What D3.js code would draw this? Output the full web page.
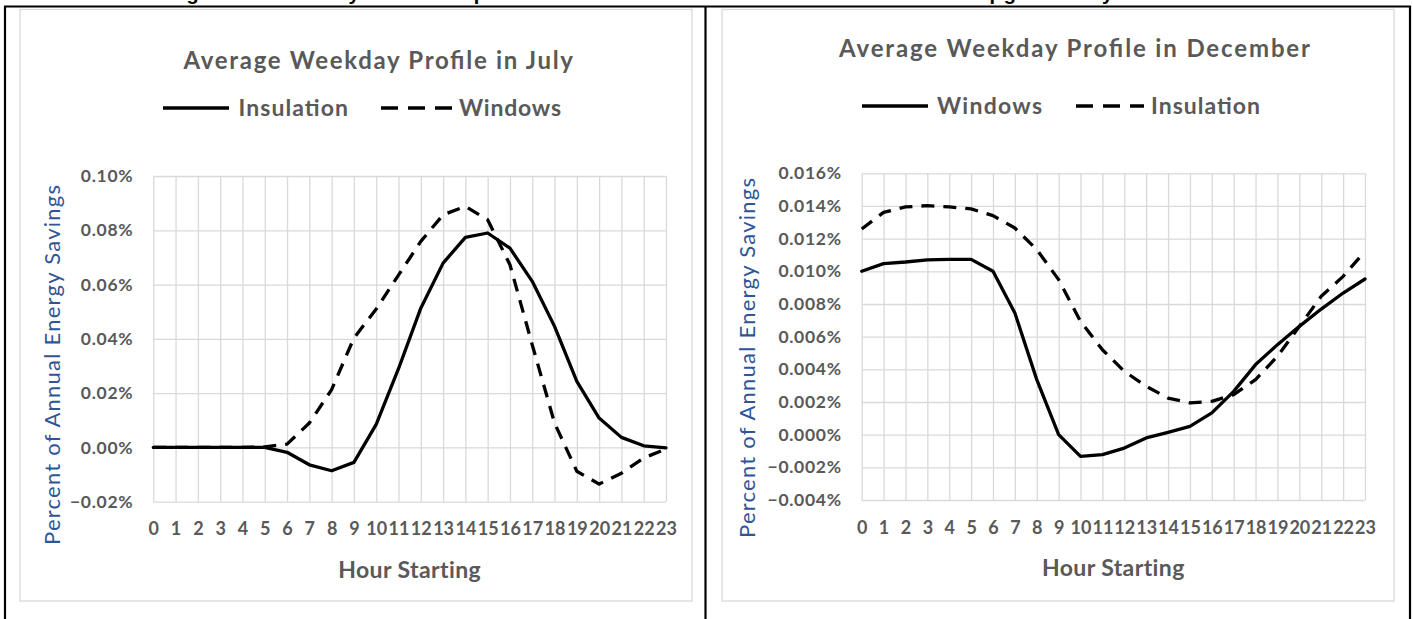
<!DOCTYPE html>
<html>
<head>
<meta charset="utf-8">
<script src="https://cdn.jsdelivr.net/npm/d3@7"></script>
<style>
  html, body { margin: 0; padding: 0; background: #ffffff; }
  svg { display: block; }
</style>
</head>
<body>
<script>
// Hour-of-day categories shared by both profiles
const hourLabels = ["0","1","2","3","4","5","6","7","8","9","10","11",
                    "12","13","14","15","16","17","18","19","20","21","22","23"];

// July: percent of annual energy savings per hour
const julyInsulation = [0, 0, 0, 0, 0, 0, -0.0018, -0.0064, -0.0086, -0.0055, 0.0085, 0.0290,
                        0.0513, 0.0679, 0.0774, 0.0790, 0.0734, 0.0612, 0.0446, 0.0243, 0.0108, 0.0037, 0.0006, -0.0002];
const julyWindows    = [0, 0, 0, 0, 0, 0.0002, 0.0012, 0.0090, 0.0213, 0.0403, 0.0510, 0.0635,
                        0.0759, 0.0857, 0.0888, 0.0839, 0.0673, 0.0378, 0.0090, -0.0088, -0.0135, -0.0095, -0.0039, -0.0006];
const julyTicks = [-0.02, 0, 0.02, 0.04, 0.06, 0.08, 0.10];

// December: percent of annual energy savings per hour
const decWindows    = [0.01000, 0.01047, 0.01057, 0.01070, 0.01073, 0.01073, 0.01000, 0.00745, 0.00337, 0.00000, -0.00133, -0.00122,
                       -0.00082, -0.00020, 0.00014, 0.00051, 0.00133, 0.00265, 0.00429, 0.00551, 0.00663, 0.00769, 0.00867, 0.00953];
const decInsulation = [0.01259, 0.01361, 0.01394, 0.01402, 0.01394, 0.01382, 0.01341, 0.01265, 0.01133, 0.00949, 0.00694, 0.00520,
                       0.00388, 0.00296, 0.00224, 0.00194, 0.00204, 0.00245, 0.00337, 0.00480, 0.00663, 0.00847, 0.00969, 0.01122];
const decTicks = [-0.004, -0.002, 0, 0.002, 0.004, 0.006, 0.008, 0.010, 0.012, 0.014, 0.016];

const W = 1413, H = 619;
const GRID = "#d9d9d9", TEXT = "#595959", AXIS_TITLE = "#2f5597";
const FONT = "Lato, 'Open Sans', sans-serif";

const svg = d3.select("body").append("svg")
  .attr("width", W).attr("height", H)
  .attr("viewBox", `0 0 ${W} ${H}`);

svg.append("rect").attr("width", W).attr("height", H).attr("fill", "#fff");

// Document caption above the figure table (runs off the top of the page)
svg.append("text")
  .attr("x", 165).attr("y", -0.5)
  .attr("textLength", 1025).attr("lengthAdjust", "spacing")
  .attr("font-family", "'Liberation Sans', Arial, sans-serif")
  .attr("font-weight", "bold").attr("font-size", 20).attr("fill", "#000")
  .text("Figure 10: Hourly Load Shapes for Residential Windows and Insulation Upgrades by Month");

// Table borders
const border = svg.append("g").attr("stroke", "#000").attr("stroke-width", 2.2).attr("fill", "none");
border.append("line").attr("x1", 4).attr("x2", 1411).attr("y1", 6.5).attr("y2", 6.5);
border.append("line").attr("x1", 5).attr("x2", 5).attr("y1", 6).attr("y2", H);
border.append("line").attr("x1", 705.5).attr("x2", 705.5).attr("y1", 6).attr("y2", H);
border.append("line").attr("x1", 1410).attr("x2", 1410).attr("y1", 6).attr("y2", H);

function drawPanel(cfg) {
  const g = svg.append("g");

  // chart-area frame
  g.append("rect")
    .attr("x", cfg.frame[0]).attr("y", cfg.frame[1])
    .attr("width", cfg.frame[2] - cfg.frame[0]).attr("height", cfg.frame[3] - cfg.frame[1])
    .attr("fill", "#fff").attr("stroke", GRID).attr("stroke-width", 1.3);

  const x = d3.scalePoint().domain(hourLabels).range([cfg.plot.x0, cfg.plot.x1]);
  const y = d3.scaleLinear().domain(d3.extent(cfg.ticks)).range([cfg.plot.y1, cfg.plot.y0]);
  const ph = cfg.plot.y1 - cfg.plot.y0, pw = cfg.plot.x1 - cfg.plot.x0;

  // vertical gridlines
  g.append("g").attr("transform", `translate(0,${cfg.plot.y1})`)
    .call(d3.axisBottom(x).tickSize(-ph).tickFormat(""))
    .call(s => s.select(".domain").remove())
    .call(s => s.selectAll("line").attr("stroke", GRID).attr("stroke-width", 1.3));

  // horizontal gridlines
  g.append("g").attr("transform", `translate(${cfg.plot.x0},0)`)
    .call(d3.axisLeft(y).tickValues(cfg.ticks).tickSize(-pw).tickFormat(""))
    .call(s => s.select(".domain").remove())
    .call(s => s.selectAll("line").attr("stroke", GRID).attr("stroke-width", 1.3));

  // y tick labels
  g.append("g").attr("transform", `translate(${cfg.plot.x0},0)`)
    .call(d3.axisLeft(y).tickValues(cfg.ticks).tickSize(0).tickPadding(20)
      .tickFormat(d => d3.format(cfg.fmt)(d) + "%"))
    .call(s => s.select(".domain").remove())
    .call(s => s.selectAll("text")
      .attr("font-family", FONT).attr("font-weight", "bold").attr("font-size", 17.5)
      .attr("letter-spacing", 0.7).attr("fill", TEXT));

  // x tick labels
  g.append("g").attr("transform", `translate(0,${cfg.plot.y1})`)
    .call(d3.axisBottom(x).tickSize(0).tickPadding(cfg.xPad))
    .call(s => s.select(".domain").remove())
    .call(s => s.selectAll("text")
      .attr("font-family", FONT).attr("font-weight", "bold").attr("font-size", 18)
      .attr("fill", TEXT));

  // series lines
  const line = d3.line().x((d, i) => x(hourLabels[i])).y(d => y(d));
  cfg.series.forEach(sr => {
    g.append("path").datum(sr.values)
      .attr("d", line)
      .attr("fill", "none").attr("stroke", "#000").attr("stroke-width", 3.3)
      .attr("stroke-linejoin", "round")
      .attr("stroke-linecap", sr.dashed ? "butt" : "round")
      .attr("stroke-dasharray", sr.dashed ? "13,9" : null);
  });

  // chart title
  g.append("text")
    .attr("x", cfg.title.x0).attr("y", cfg.title.y)
    .attr("textLength", cfg.title.x1 - cfg.title.x0).attr("lengthAdjust", "spacing")
    .attr("font-family", FONT).attr("font-weight", "bold").attr("font-size", 24)
    .attr("fill", TEXT).text(cfg.title.text);

  // legend
  cfg.series.forEach(sr => {
    const L = sr.legend;
    g.append("line")
      .attr("x1", L.line[0]).attr("x2", L.line[1]).attr("y1", cfg.legendY).attr("y2", cfg.legendY)
      .attr("stroke", "#000").attr("stroke-width", 3.3)
      .attr("stroke-dasharray", sr.dashed ? "17,10" : null);
    g.append("text")
      .attr("x", L.text[0]).attr("y", cfg.legendY).attr("dy", "0.36em")
      .attr("textLength", L.text[1] - L.text[0]).attr("lengthAdjust", "spacing")
      .attr("font-family", FONT).attr("font-weight", "bold").attr("font-size", 23)
      .attr("fill", TEXT).text(sr.name);
  });

  // axis titles
  g.append("text")
    .attr("x", (cfg.plot.x0 + cfg.plot.x1) / 2).attr("y", cfg.xTitleY).attr("dy", "0.36em")
    .attr("text-anchor", "middle")
    .attr("font-family", FONT).attr("font-weight", "bold").attr("font-size", 23)
    .attr("letter-spacing", 0.4).attr("fill", TEXT).text("Hour Starting");

  g.append("text")
    .attr("transform", `translate(${cfg.yTitle.x},${cfg.yTitle.y}) rotate(-90)`)
    .attr("text-anchor", "middle").attr("dy", "0.36em")
    .attr("font-family", FONT).attr("font-size", 22)
    .attr("textLength", 360).attr("lengthAdjust", "spacing")
    .attr("fill", AXIS_TITLE).text("Percent of Annual Energy Savings");
}

drawPanel({
  frame: [20, 9.5, 692, 601],
  plot: { x0: 153.3, x1: 666, y0: 176, y1: 501.7 },
  ticks: julyTicks, fmt: ".2f", xPad: 21,
  title: { text: "Average Weekday Profile in July", x0: 183.5, x1: 573, y: 69 },
  legendY: 108,
  xTitleY: 570,
  yTitle: { x: 52, y: 365 },
  series: [
    { name: "Insulation", values: julyInsulation, dashed: false, legend: { line: [163, 229], text: [238.5, 348] } },
    { name: "Windows",    values: julyWindows,    dashed: true,  legend: { line: [381, 452], text: [459, 561] } }
  ]
});

drawPanel({
  frame: [722, 9.5, 1394, 601],
  plot: { x0: 861.7, x1: 1365, y0: 173.3, y1: 500 },
  ticks: decTicks, fmt: ".3f", xPad: 21,
  title: { text: "Average Weekday Profile in December", x0: 839, x1: 1310, y: 57 },
  legendY: 106,
  xTitleY: 568,
  yTitle: { x: 747, y: 358 },
  series: [
    { name: "Windows",    values: decWindows,    dashed: false, legend: { line: [862, 928], text: [937, 1042] } },
    { name: "Insulation", values: decInsulation, dashed: true,  legend: { line: [1076, 1144], text: [1151, 1260] } }
  ]
});
</script>
</body>
</html>
